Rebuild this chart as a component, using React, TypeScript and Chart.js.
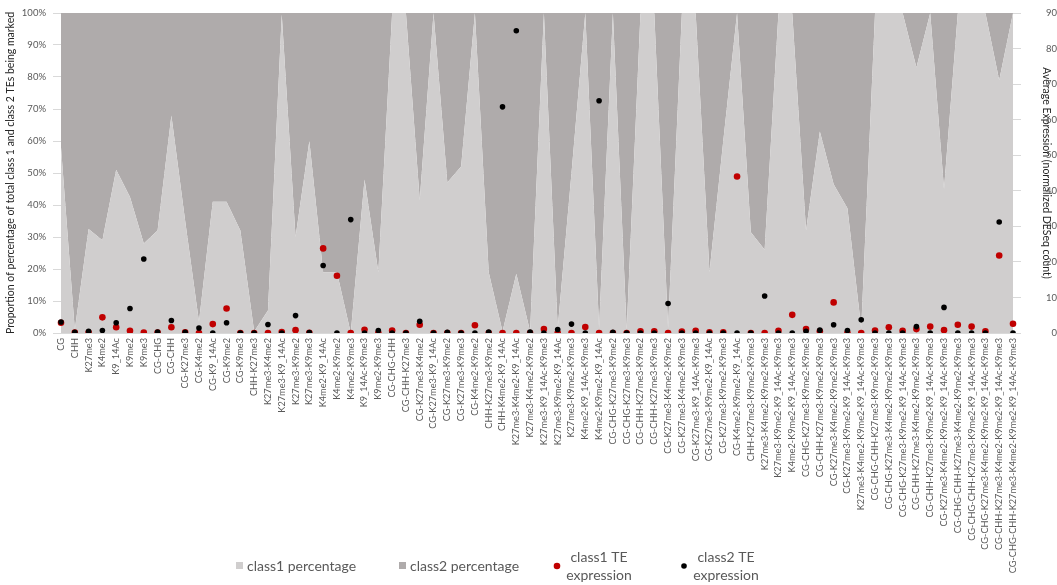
import { useEffect, useRef } from "react";
import { Chart, registerables } from "chart.js";

Chart.register(...registerables);

const FONT = "Lato, 'Open Sans', 'Liberation Sans', sans-serif";

// Mark combinations along the x axis
const categories = [
  "CG", "CHH", "K27me3", "K4me2", "K9_14Ac", "K9me2", "K9me3",
  "CG-CHG", "CG-CHH", "CG-K27me3", "CG-K4me2", "CG-K9_14Ac", "CG-K9me2", "CG-K9me3",
  "CHH-K27me3", "K27me3-K4me2", "K27me3-K9_14Ac", "K27me3-K9me2", "K27me3-K9me3",
  "K4me2-K9_14Ac", "K4me2-K9me2", "K4me2-K9me3", "K9_14Ac-K9me3", "K9me2-K9me3",
  "CG-CHG-CHH", "CG-CHH-K27me3", "CG-K27me3-K4me2", "CG-K27me3-K9_14Ac", "CG-K27me3-K9me2",
  "CG-K27me3-K9me3", "CG-K4me2-K9me2", "CHH-K27me3-K9me2", "CHH-K4me2-K9_14Ac",
  "K27me3-K4me2-K9_14Ac", "K27me3-K4me2-K9me2", "K27me3-K9_14Ac-K9me3", "K27me3-K9me2-K9_14Ac",
  "K27me3-K9me2-K9me3", "K4me2-K9_14Ac-K9me3", "K4me2-K9me2-K9_14Ac",
  "CG-CHG-K27me3-K9me2", "CG-CHG-K27me3-K9me3", "CG-CHH-K27me3-K9me2", "CG-CHH-K27me3-K9me3",
  "CG-K27me3-K4me2-K9me2", "CG-K27me3-K4me2-K9me3", "CG-K27me3-K9_14Ac-K9me3",
  "CG-K27me3-K9me2-K9_14Ac", "CG-K27me3-K9me2-K9me3", "CG-K4me2-K9me2-K9_14Ac",
  "CHH-K27me3-K9me2-K9me3", "K27me3-K4me2-K9me2-K9me3", "K27me3-K9me2-K9_14Ac-K9me3",
  "K4me2-K9me2-K9_14Ac-K9me3", "CG-CHG-K27me3-K9me2-K9me3", "CG-CHH-K27me3-K9me2-K9me3",
  "CG-K27me3-K4me2-K9me2-K9me3", "CG-K27me3-K9me2-K9_14Ac-K9me3", "K27me3-K4me2-K9me2-K9_14Ac-K9me3",
  "CG-CHG-CHH-K27me3-K9me2-K9me3", "CG-CHG-K27me3-K4me2-K9me2-K9me3", "CG-CHG-K27me3-K9me2-K9_14Ac-K9me3",
  "CG-CHH-K27me3-K4me2-K9me2-K9me3", "CG-CHH-K27me3-K9me2-K9_14Ac-K9me3",
  "CG-K27me3-K4me2-K9me2-K9_14Ac-K9me3", "CG-CHG-CHH-K27me3-K4me2-K9me2-K9me3",
  "CG-CHG-CHH-K27me3-K9me2-K9_14Ac-K9me3", "CG-CHG-K27me3-K4me2-K9me2-K9_14Ac-K9me3",
  "CG-CHH-K27me3-K4me2-K9me2-K9_14Ac-K9me3", "CG-CHG-CHH-K27me3-K4me2-K9me2-K9_14Ac-K9me3",
];

// Share of marked TEs (percent) for each class
const class1Percentage = [
  58, 1, 32.5, 29, 51, 42.5, 28, 32, 68, 35, 3.5, 41, 41, 32, 0.5, 7, 99.5, 30, 60, 19,
  19, 0, 48, 19, 100, 100, 41.5, 100, 47, 52, 100, 19, 0.5, 18.5, 0.5, 100, 1.5, 50, 100, 1.5,
  100, 1, 100, 100, 1.5, 100, 100, 19, 60, 100, 31.5, 26, 100, 100, 32, 63, 46.5, 39, 1.5, 100,
  100, 100, 83, 100, 45, 100, 100, 100, 79, 100,
];
const class2Percentage = [
  42, 99, 67.5, 71, 49, 57.5, 72, 68, 32, 65, 96.5, 59, 59, 68, 99.5, 93, 0.5, 70, 40, 81,
  81, 100, 52, 81, 0, 0, 58.5, 0, 53, 48, 0, 81, 99.5, 81.5, 99.5, 0, 98.5, 50, 0, 98.5,
  0, 99, 0, 0, 98.5, 0, 0, 81, 40, 0, 68.5, 74, 0, 0, 68, 37, 53.5, 61, 98.5, 0,
  0, 0, 17, 0, 55, 0, 0, 0, 21, 0,
];

// Average expression (normalized DESeq count)
const class1Expression = [
  2.9, 0.1, 0.1, 4.4, 1.6, 0.6, 0.1, 0.1, 1.6, 0.2, 0, 2.5, 6.9, 0, 0, 0, 0.3, 0.8, 0.05, 23.8,
  16.1, 0, 0.9, 0, 0.7, 0, 2.3, 0, 0, 0, 2.2, 0, 0, 0, 0, 1.1, 0, 0, 1.7, 0,
  0, 0, 0.5, 0.5, 0, 0.4, 0.6, 0.2, 0.2, 44, 0, 0, 0.6, 5.1, 1.1, 0.5, 8.6, 0, 0, 0.7,
  1.6, 0.6, 1.1, 1.8, 0.8, 2.3, 1.8, 0.5, 21.8, 2.6,
];
const class2Expression = [
  3.1, 0.2, 0.5, 0.7, 2.9, 6.9, 20.8, 0.3, 3.5, 0.2, 1.4, 0, 2.9, 0, 0, 2.4, 0, 4.9, 0.1, 19,
  0, 31.9, 0, 0.7, 0, 0, 3.3, 0, 0.2, 0, 0, 0.3, 63.6, 85, 0.3, 0, 1, 2.5, 0, 65.3,
  0.2, 0, 0, 0, 8.3, 0, 0, 0, 0, 0, 0, 10.4, 0, 0, 0.5, 0.8, 2.3, 0.7, 3.7, 0,
  0, 0, 1.8, 0, 7.2, 0, 0, 0, 31.2, 0,
];

const percentTicks = [0, 10, 20, 30, 40, 50, 60, 70, 80, 90, 100];

const LIGHT = "#D0CECE";
const DARK = "#AFABAB";
const RED = "#C00000";
const BLACK = "#000000";

// Legend drawn under the axis labels, Excel style
const bottomLegend = {
  id: "bottomLegend",
  afterDraw(chart: any) {
    const ctx = chart.ctx as CanvasRenderingContext2D;
    const ds = chart.data.datasets;
    ctx.save();
    ctx.font = `14px ${FONT}`;
    ctx.textBaseline = "middle";

    const midY = 566;
    // area swatches
    ctx.fillStyle = ds[0].backgroundColor;
    ctx.fillRect(236, midY - 4, 7, 7);
    ctx.fillStyle = "#595959";
    ctx.textAlign = "left";
    ctx.fillText(ds[0].label, 247, midY);

    ctx.fillStyle = ds[1].backgroundColor;
    ctx.fillRect(399, midY - 4, 7, 7);
    ctx.fillStyle = "#595959";
    ctx.fillText(ds[1].label, 410, midY);

    // point markers with two-line labels
    const pointItems = [
      { d: ds[2], cx: 557, tx: 599 },
      { d: ds[3], cx: 684, tx: 726 },
    ];
    for (const it of pointItems) {
      ctx.beginPath();
      ctx.fillStyle = it.d.pointBackgroundColor;
      ctx.arc(it.cx, midY, it.d.pointRadius, 0, Math.PI * 2);
      ctx.fill();
      ctx.fillStyle = "#595959";
      ctx.textAlign = "center";
      const words = String(it.d.label).split(" ");
      ctx.fillText(words.slice(0, 2).join(" "), it.tx, 557);
      ctx.fillText(words.slice(2).join(" "), it.tx, 575);
    }
    ctx.restore();
  },
};

export default function App() {
  const canvasRef = useRef<HTMLCanvasElement | null>(null);

  useEffect(() => {
    document.body.style.margin = "0";
    const canvas = canvasRef.current;
    if (!canvas) return;

    const chart = new Chart(canvas, {
      type: "line",
      data: {
        labels: categories,
        datasets: [
          {
            label: "class1 percentage",
            data: class1Percentage,
            yAxisID: "y",
            backgroundColor: LIGHT,
            borderColor: LIGHT,
            borderWidth: 0,
            pointRadius: 0,
            fill: "origin",
            tension: 0,
            order: 2,
          },
          {
            label: "class2 percentage",
            data: class2Percentage,
            yAxisID: "y",
            backgroundColor: DARK,
            borderColor: DARK,
            borderWidth: 0,
            pointRadius: 0,
            fill: "-1",
            tension: 0,
            order: 3,
          },
          {
            label: "class1 TE expression",
            data: class1Expression,
            yAxisID: "y2",
            showLine: false,
            pointRadius: 3.3,
            pointBackgroundColor: RED,
            pointBorderWidth: 0,
            backgroundColor: RED,
            borderColor: RED,
            order: 1,
          },
          {
            label: "class2 TE expression",
            data: class2Expression,
            yAxisID: "y2",
            showLine: false,
            pointRadius: 2.8,
            pointBackgroundColor: BLACK,
            pointBorderWidth: 0,
            backgroundColor: BLACK,
            borderColor: BLACK,
            order: 0,
          },
        ],
      },
      options: {
        responsive: false,
        animation: false,
        devicePixelRatio: 1,
        events: [],
        layout: { padding: { top: 13, left: 0, right: 0, bottom: 0 } },
        plugins: {
          legend: { display: false },
          tooltip: { enabled: false },
        },
        scales: {
          x: {
            offset: false,
            grid: { display: false, drawTicks: false },
            border: { display: false },
            ticks: {
              autoSkip: false,
              minRotation: 90,
              maxRotation: 90,
              padding: 5,
              color: "#595959",
              font: { family: FONT, size: 9.2 },
            },
            afterFit: (s: any) => {
              s.height = 252;
            },
          },
          y: {
            position: "left",
            stacked: true,
            min: 0,
            max: 100,
            afterBuildTicks: (s: any) => {
              s.ticks = percentTicks.map((v) => ({ value: v }));
            },
            ticks: {
              padding: 7,
              color: "#595959",
              font: { family: FONT, size: 9.5 },
              callback: (v: any) => `${v}%`,
            },
            grid: { color: "#D9D9D9", tickLength: 8 },
            border: { display: false },
            title: {
              display: true,
              text: "Proportion of percentage of total class 1 and class 2 TEs being marked",
              color: "#262626",
              font: { family: FONT, size: 10.5 },
              padding: { top: 4, bottom: 0 },
            },
            afterFit: (s: any) => {
              s.width = 61;
            },
          },
          y2: {
            position: "right",
            min: 0,
            max: 90,
            ticks: {
              stepSize: 10,
              padding: 3,
              crossAlign: "far",
              color: "#595959",
              font: { family: FONT, size: 9.5 },
            },
            grid: { drawOnChartArea: false, color: "#D9D9D9", tickLength: 8 },
            border: { display: false },
            title: {
              display: true,
              text: "Average Expression (normalized DESeq count)",
              color: "#262626",
              font: { family: FONT, size: 10.5 },
              padding: { top: 4, bottom: 4 },
            },
            afterFit: (s: any) => {
              s.width = 44;
            },
          },
        },
      },
      plugins: [bottomLegend],
    } as any);

    return () => chart.destroy();
  }, []);

  return (
    <div style={{ width: 1057, height: 585, background: "#ffffff" }}>
      <canvas ref={canvasRef} width={1057} height={585} style={{ display: "block" }} />
    </div>
  );
}
